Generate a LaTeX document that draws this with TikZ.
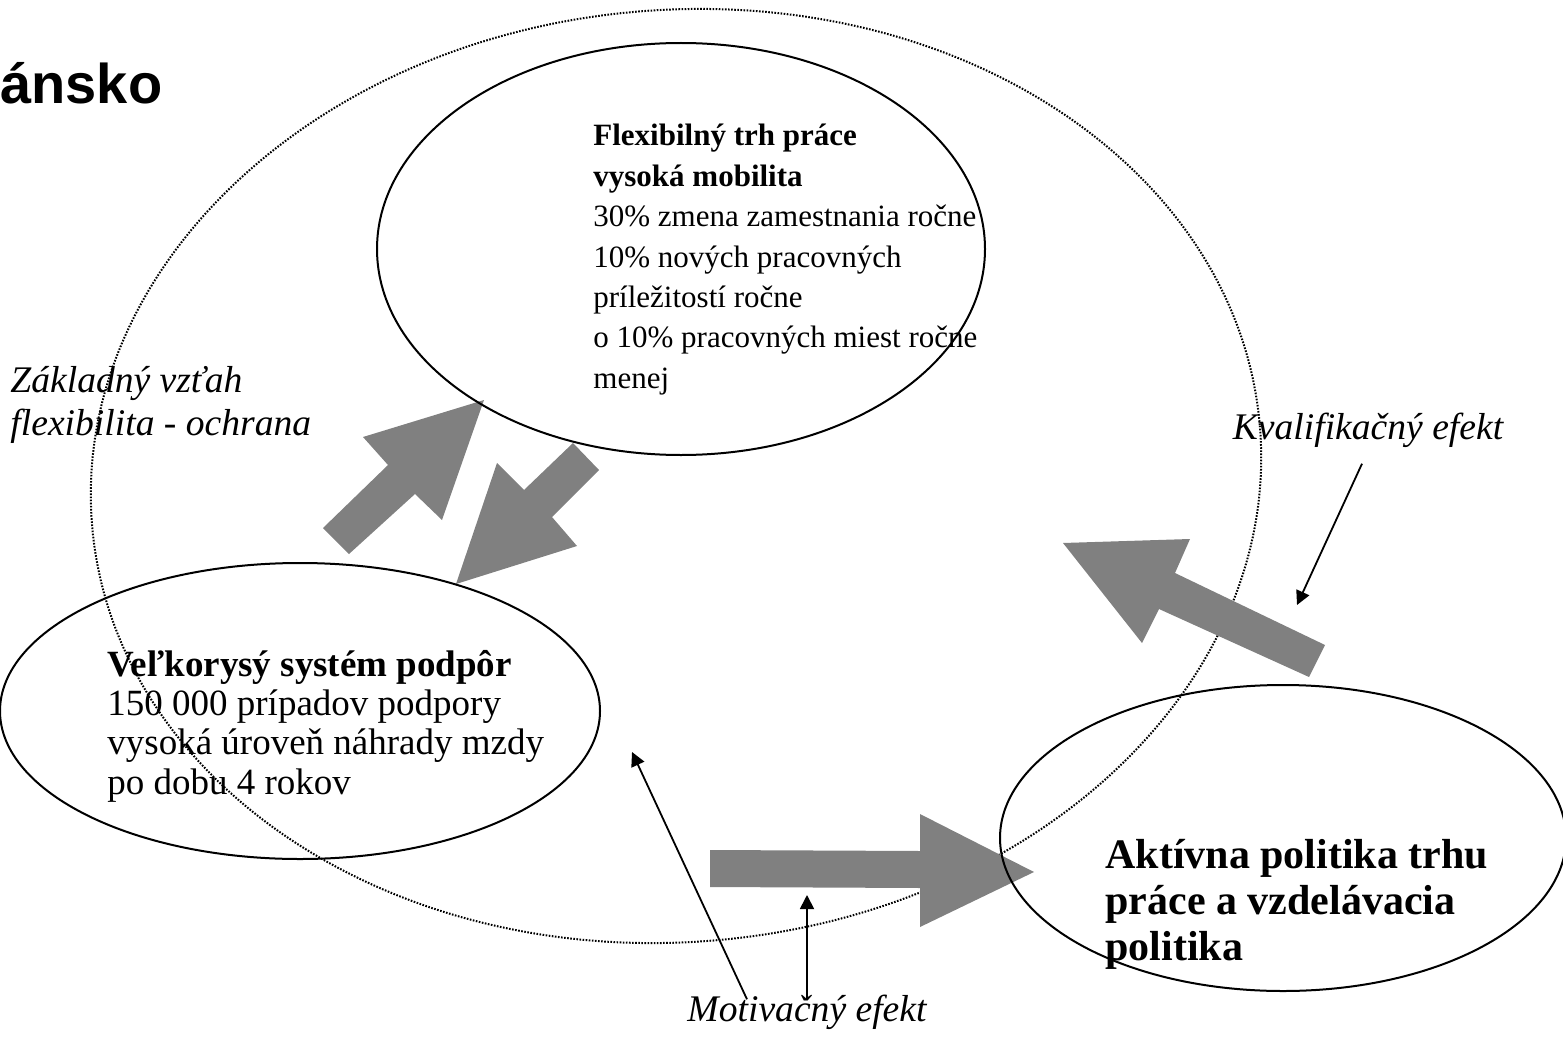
\documentclass[tikz,border=0pt]{standalone}
\usepackage{fontspec}
\setmainfont{Liberation Serif}
\newfontfamily\titlefont{Liberation Sans}
\usetikzlibrary{
    arrows.meta,
    shapes,
    positioning
}
\definecolor{arrowgray}{HTML}{808080}
\tikzset{
    circ/.style={ellipse, draw=black, line width=1pt, inner sep=0pt},
    outer/.style={ellipse, draw=black, line width=1pt, dash pattern=on 0.8pt off 0.75pt, inner sep=0pt},
    body/.style={inner sep=0pt, align=left, font=\fontsize{15.5}{20.2}\selectfont},
    lbl/.style={inner sep=0pt, align=left, font=\fontsize{18.8}{21.5}\selectfont\itshape},
    pointer/.style={line width=0.9pt, -{Triangle[length=7pt, width=7pt]}},
    block/.style={fill=arrowgray}
}

\begin{document}
\begin{tikzpicture}[x=0.5pt, y=-0.5pt]
    \useasboundingbox (0, 0) rectangle (1563, 1038);
    \node[anchor=base west, inner sep=0pt, font=\fontsize{28}{34}\titlefont\bfseries] (title) at (0, 104) {ánsko};

    \node[outer, minimum width=586pt, minimum height=466pt, rotate=5] (frame) at (676, 476) {};

    \fill[block] (323, 528) -- (388, 465) -- (363, 437) -- (484, 400) -- (442, 520) -- (415, 494) -- (349, 554) -- cycle;
    \fill[block] (573, 443) -- (599, 470) -- (552, 517) -- (577, 546) -- (456, 584) -- (497, 463) -- (524, 490) -- cycle;
    \fill[block] (710, 850) -- (920, 851) -- (920, 814) -- (1034, 872) -- (920, 927) -- (920, 888) -- (710, 887) -- cycle;
    \fill[block] (1325, 645) -- (1175, 573) -- (1190, 539) -- (1063, 543) -- (1142, 643) -- (1159, 609) -- (1309, 677) -- cycle;

    \node[circ, minimum width=304pt, minimum height=206pt] (flex) at (681, 249) {};
    \node[circ, minimum width=300pt, minimum height=148pt] (support) at (300, 711) {};
    \node[circ, minimum width=283pt, minimum height=153pt] (active) at (1283, 838) {};

    \node[body, anchor=north west] (flextext) at (593, 124)
        {\textbf{Flexibilný trh práce}\\\textbf{vysoká mobilita}\\30\% zmena zamestnania ročne\\10\% nových pracovných\\príležitostí ročne\\o 10\% pracovných miest ročne\\menej};
    \node[body, anchor=north west, font=\fontsize{18.5}{19.6}\selectfont] (supporttext) at (107, 650)
        {\textbf{Veľkorysý systém podpôr}\\150 000 prípadov podpory\\vysoká úroveň náhrady mzdy\\po dobu 4 rokov};
    \node[body, anchor=north west, font=\fontsize{21}{23}\selectfont\bfseries] (activetext) at (1105, 839)
        {Aktívna politika trhu\\práce a vzdelávacia\\politika};

    \node[lbl, anchor=west] (basic) at (10, 405) {Základný vzťah\\flexibilita - ochrana};
    \node[lbl] (kval) at (1368, 430) {Kvalifikačný efekt};
    \node[lbl] (motiv) at (807, 1012) {Motivačný efekt};

    \coordinate (kvaltip) at (1297, 605);
    \coordinate (motivtipa) at (632, 752);
    \coordinate (motivtipb) at (807, 895);
    \draw[pointer] (kval.south) ++(-6, 16) -- (kvaltip);
    \draw[pointer] (motiv.north) ++(-60, 5) -- (motivtipa);
    \draw[pointer] (motiv.north) ++(0, 5) -- (motivtipb);
\end{tikzpicture}
\end{document}
